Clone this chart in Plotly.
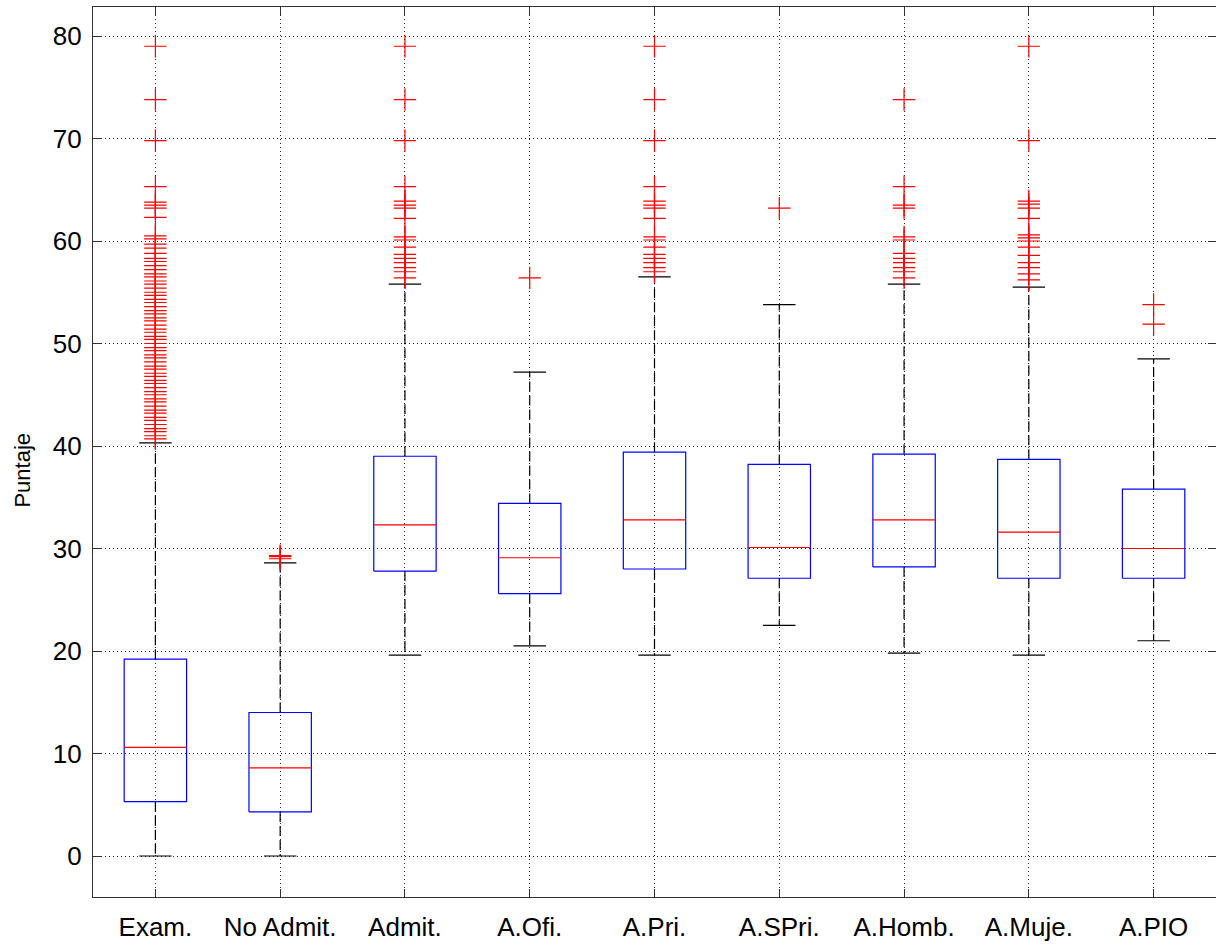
import plotly.graph_objects as go

# ---- data ----
categories = ["Exam.", "No Admit.", "Admit.", "A.Ofi.", "A.Pri.", "A.SPri.", "A.Homb.", "A.Muje.", "A.PIO"]
q1 = [5.3, 4.3, 27.8, 25.6, 28.0, 27.1, 28.2, 27.1, 27.1]
median = [10.6, 8.6, 32.3, 29.1, 32.8, 30.1, 32.8, 31.6, 30.0]
q3 = [19.2, 14.0, 39.0, 34.4, 39.4, 38.2, 39.2, 38.7, 35.8]
lower_whisker = [0.0, 0.0, 19.6, 20.5, 19.6, 22.5, 19.8, 19.6, 21.0]
upper_whisker = [40.3, 28.6, 55.8, 47.2, 56.5, 53.8, 55.8, 55.5, 48.5]

outliers_exam = [79.0, 73.8, 69.8, 65.3, 63.8, 63.5, 63.2, 62.3, 60.5, 60.2, 59.7, 59.3,
                 58.8, 58.3, 58.0, 57.6, 57.2, 56.8, 56.5, 56.1, 55.8, 55.4, 55.0, 54.7,
                 54.3, 54.0, 53.6, 53.2, 52.9, 52.5, 52.2, 51.8, 51.4, 51.1, 50.7, 50.4,
                 50.0, 49.6, 49.3, 48.9, 48.6, 48.2, 47.8, 47.5, 47.1, 46.8, 46.4, 46.1,
                 45.7, 45.3, 45.0, 44.6, 44.3, 43.9, 43.5, 43.2, 42.8, 42.5, 42.1, 41.7,
                 41.4, 41.0, 40.7]
outliers_noadmit = [29.0, 29.2, 29.3]
outliers_admit = [79.0, 73.8, 69.8, 65.3, 63.9, 63.5, 63.2, 62.2, 60.4, 60.1, 59.4,
                  58.7, 58.3, 57.9, 57.4, 57.0, 56.4]
outliers_aofi = [56.4]
outliers_apri = [79.0, 73.8, 69.8, 65.3, 63.9, 63.5, 63.2, 62.2, 60.4, 60.1, 59.4,
                 58.7, 58.3, 57.9, 57.4, 57.0]
outliers_aspri = [63.2]
outliers_ahomb = [73.8, 65.3, 63.5, 63.2, 60.4, 60.1, 58.8, 58.3, 57.9, 57.4, 57.0, 56.4]
outliers_amuje = [79.0, 69.8, 63.9, 63.6, 63.2, 62.2, 60.6, 60.3, 60.0, 59.4, 58.6,
                  57.9, 57.4, 56.8, 56.2]
outliers_apio = [53.8, 51.9]
outliers = [outliers_exam, outliers_noadmit, outliers_admit, outliers_aofi, outliers_apri,
            outliers_aspri, outliers_ahomb, outliers_amuje, outliers_apio]

y_ticks = [0, 10, 20, 30, 40, 50, 60, 70, 80]
y_label = "Puntaje"

# ---- styling ----
BOX_HW = 0.25
CAP_HW = 0.13
FONT = "Liberation Sans, Arial, Helvetica, sans-serif"

positions = list(range(1, len(categories) + 1))

wx, wy = [], []      # whisker stems
cx, cy = [], []      # whisker caps
bx, by = [], []      # boxes
mx, my = [], []      # medians
ox, oy = [], []      # outliers
for p, a, b, c, lo, hi, outs in zip(positions, q1, median, q3, lower_whisker, upper_whisker, outliers):
    wx += [p, p, None, p, p, None]
    wy += [c, hi, None, a, lo, None]
    cx += [p - CAP_HW, p + CAP_HW, None, p - CAP_HW, p + CAP_HW, None]
    cy += [hi, hi, None, lo, lo, None]
    bx += [p - BOX_HW, p + BOX_HW, p + BOX_HW, p - BOX_HW, p - BOX_HW, None]
    by += [a, a, c, c, a, None]
    mx += [p - BOX_HW, p + BOX_HW, None]
    my += [b, b, None]
    ox += [p] * len(outs)
    oy += outs

fig = go.Figure()
fig.add_trace(go.Scatter(x=wx, y=wy, mode="lines",
                         line=dict(color="black", width=1.2, dash="10px,4px"),
                         hoverinfo="skip", showlegend=False))
fig.add_trace(go.Scatter(x=cx, y=cy, mode="lines",
                         line=dict(color="black", width=1.2),
                         hoverinfo="skip", showlegend=False))
fig.add_trace(go.Scatter(x=bx, y=by, mode="lines",
                         line=dict(color="#0000ff", width=1.2),
                         hoverinfo="skip", showlegend=False))
fig.add_trace(go.Scatter(x=mx, y=my, mode="lines",
                         line=dict(color="#ff0000", width=1.2),
                         hoverinfo="skip", showlegend=False))
fig.add_trace(go.Scatter(x=ox, y=oy, mode="markers",
                         marker=dict(symbol="cross-thin-open", size=16, color="#ff0000",
                                     line=dict(color="#ff0000", width=1.2)),
                         showlegend=False))

fig.update_layout(
    width=1216, height=951,
    margin=dict(l=93, r=0, t=7, b=54),
    plot_bgcolor="white", paper_bgcolor="white",
    font=dict(family=FONT, color="black"),
    showlegend=False,
)
fig.add_annotation(
    text=y_label, textangle=-90, showarrow=False,
    xref="paper", x=0, xanchor="center", xshift=-70,
    yref="y", y=37.6, yanchor="middle",
    font=dict(size=22, family=FONT, color="black"),
)
fig.update_xaxes(
    range=[0.5, 9.5], tickvals=positions, ticktext=categories,
    showgrid=True, gridcolor="#222222", griddash="1px,3px", gridwidth=1,
    showline=True, linecolor="#333333", linewidth=1.3, mirror="ticks",
    ticks="inside", ticklen=8, tickcolor="#333333", tickwidth=1.3,
    tickfont=dict(size=26, family=FONT), ticklabelstandoff=7,
    zeroline=False, automargin=False,
)
fig.update_yaxes(
    range=[-4.0, 82.83], tickvals=y_ticks,
    showgrid=True, gridcolor="#222222", griddash="1px,3px", gridwidth=1,
    showline=True, linecolor="#333333", linewidth=1.3, mirror="ticks",
    ticks="inside", ticklen=8, tickcolor="#333333", tickwidth=1.3,
    tickfont=dict(size=26, family=FONT), ticklabelstandoff=5,
    zeroline=False, automargin=False,
)

fig.write_html(
    "out.html",
    config={"displayModeBar": False},
    post_script="document.body.style.margin='0px';document.body.style.overflow='hidden';",
)
